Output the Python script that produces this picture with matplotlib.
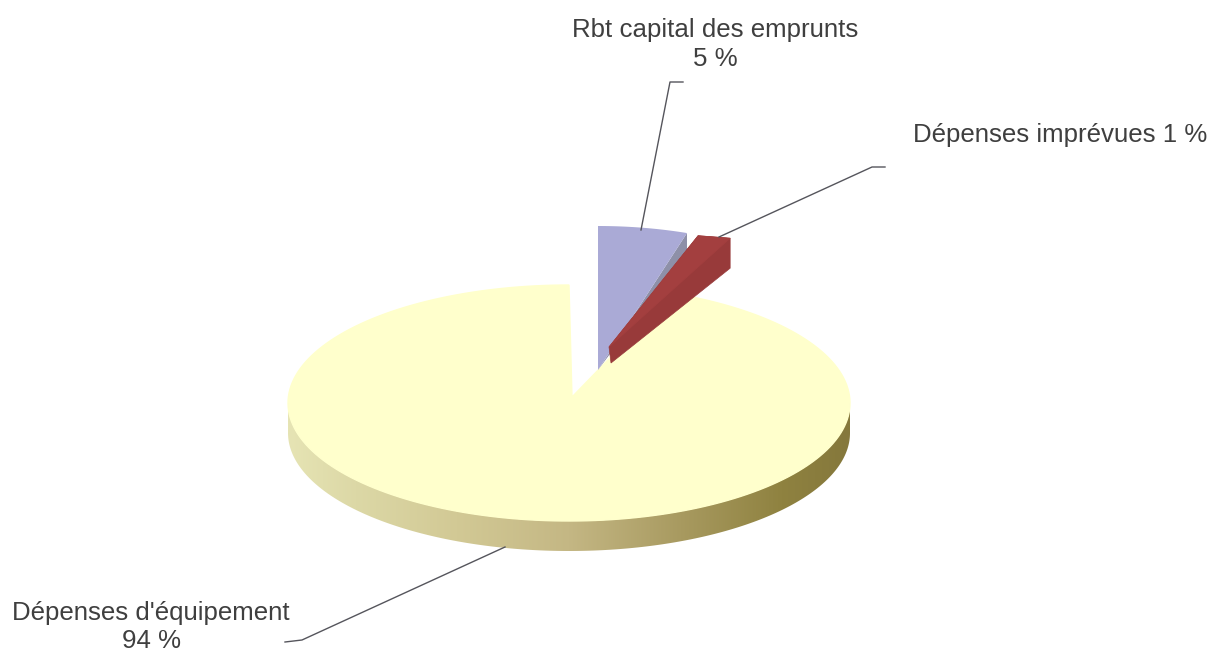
import numpy as np
import matplotlib
matplotlib.use('Agg')
import matplotlib.pyplot as plt
from matplotlib.patches import Polygon
from matplotlib.colors import LinearSegmentedColormap

# poste de dépense et part en %
postes = ["Dépenses d'équipement", 'Rbt capital des emprunts', 'Dépenses imprévues']
parts = [94, 5, 1]

plt.rcParams['font.family'] = ['Liberation Sans', 'DejaVu Sans']

W, H = 1211, 652
fig = plt.figure(figsize=(W / 100, H / 100), dpi=100)
ax = fig.add_axes([0, 0, 1, 1])
ax.set_xlim(0, W)
ax.set_ylim(H, 0)
ax.axis('off')

# angles des parts, sens horaire depuis le haut (0 = midi)
total = sum(parts)
debut_rbt = 0
fin_rbt = parts[1] / total * 2 * np.pi
fin_imp = fin_rbt + parts[2] / total * 2 * np.pi


# sh : cisaillement dû à la perspective des parts détachées
def arc(cx, cy, rx, ry, a0, a1, sh=0, n=200):
    t = np.linspace(a0, a1, n)
    return np.column_stack([cx + rx * np.sin(t) + sh * np.cos(t), cy - ry * np.cos(t)])


# grande part : épaisseur en dégradé puis dessus
cx, cy, rx, ry, ep = 569, 403, 281, 118, 30
bas = arc(cx, cy, rx, ry, np.pi / 2, 3 * np.pi / 2)
bande = np.vstack([bas, (bas + [0, ep])[::-1]])
cmap = LinearSegmentedColormap.from_list('cote', [
    (0.00, '#e6e4b4'), (0.12, '#dcd8a6'), (0.30, '#d2c995'), (0.50, '#c4b784'),
    (0.70, '#a89a60'), (0.88, '#8f8240'), (1.00, '#85783c')])
grad = np.linspace(0, 1, 256).reshape(1, -1)
im = ax.imshow(grad, cmap=cmap, extent=(cx - rx, cx + rx, cy + ry + ep, cy), aspect='auto', zorder=1)
ax.set_xlim(0, W)
ax.set_ylim(H, 0)
im.set_clip_path(Polygon(bande, transform=ax.transData))
dessus = np.vstack([[cx + 3, cy - 6], arc(cx, cy, rx, ry, fin_imp, 2 * np.pi)])
ax.add_patch(Polygon(dessus, fc='#ffffcc', ec='#ffffcc', lw=1, zorder=2))

# part Rbt détachée, tranche visible le long de la part rouge
c_rbt = np.array([598, 370])
bord = arc(c_rbt[0], c_rbt[1], 288, 144, debut_rbt, fin_rbt)
ax.add_patch(Polygon([c_rbt, bord[-1], bord[-1] + [0, 18]], fc='#8e90a8', ec='none', zorder=3))
ax.add_patch(Polygon(np.vstack([c_rbt, bord]), fc='#aaaad6', ec='none', zorder=4))

# part imprévues détachée, épaisseur plus forte vers l'extérieur
c_imp = np.array([609, 347])
bord = arc(c_imp[0], c_imp[1], 516, 117, fin_rbt, fin_imp, sh=-74)
cote = [c_imp, bord[0], bord[-1], bord[-1] + [0, 30], c_imp + [2, 16]]
ax.add_patch(Polygon(cote, fc='#983a3a', ec='#983a3a', lw=0.5, zorder=5))
ax.add_patch(Polygon(np.vstack([c_imp, bord]), fc='#a33f3f', ec='#a33f3f', lw=0.5, zorder=6))

# traits de rappel
trait = dict(color='#55555c', lw=1, zorder=7)
ax.plot([641, 670, 683], [230, 82, 82], **trait)
ax.plot([719, 872, 885], [237, 167, 167], **trait)
ax.plot([505, 302, 285], [547, 640, 642], **trait)

# étiquettes
txt = dict(fontsize=18.6, color='#3f3f3f', ha='center', va='center', linespacing=1.24)
ax.text(715, 44.5, f'{postes[1]}\n{parts[1]} %', **txt)
ax.text(1060, 135, f'{postes[2]} {parts[2]} %', **txt)
ax.text(151, 627, f'{postes[0]}\n{parts[0]} %', **txt)

fig.savefig('out.png', dpi=100)
